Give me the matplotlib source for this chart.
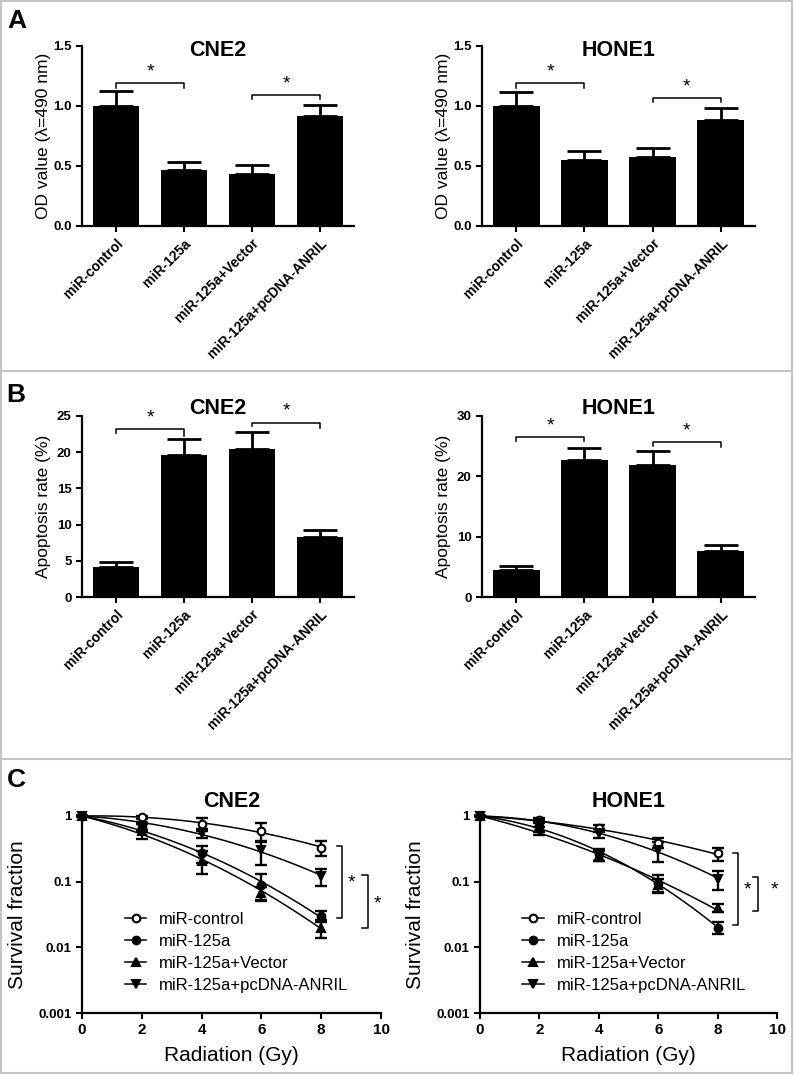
import numpy as np
import matplotlib
matplotlib.use('Agg')
import matplotlib.pyplot as plt
from matplotlib.lines import Line2D

plt.rcParams['font.family'] = ['Liberation Sans', 'DejaVu Sans']

groups = ['miR-control', 'miR-125a', 'miR-125a+Vector', 'miR-125a+pcDNA-ANRIL']

# panel A: OD value
od_cne2 = [1.0, 0.47, 0.43, 0.915]
od_cne2_err = [0.125, 0.065, 0.08, 0.095]
od_hone1 = [1.0, 0.55, 0.575, 0.883]
od_hone1_err = [0.12, 0.075, 0.075, 0.097]

# panel B: apoptosis rate
apo_cne2 = [4.15, 19.6, 20.4, 8.3]
apo_cne2_err = [0.75, 2.2, 2.4, 0.95]
apo_hone1 = [4.45, 22.7, 21.9, 7.6]
apo_hone1_err = [0.65, 2.0, 2.3, 1.0]

# panel C: survival fraction
dose = [0, 2, 4, 6, 8]
series = ['miR-control', 'miR-125a', 'miR-125a+Vector', 'miR-125a+pcDNA-ANRIL']
surv_cne2 = {
    'miR-control': [1.0, 0.95, 0.76, 0.59, 0.33],
    'miR-125a': [1.0, 0.68, 0.27, 0.09, 0.03],
    'miR-125a+Vector': [1.0, 0.6, 0.21, 0.068, 0.02],
    'miR-125a+pcDNA-ANRIL': [1.0, 0.7, 0.55, 0.3, 0.12],
}
surv_cne2_err = {
    'miR-control': [0.0, 0.06, 0.17, 0.19, 0.08],
    'miR-125a': [0.0, 0.08, 0.08, 0.04, 0.006],
    'miR-125a+Vector': [0.0, 0.16, 0.08, 0.015, 0.006],
    'miR-125a+pcDNA-ANRIL': [0.0, 0.08, 0.08, 0.12, 0.035],
}
surv_hone1 = {
    'miR-control': [1.0, 0.87, 0.65, 0.39, 0.27],
    'miR-125a': [1.0, 0.7, 0.26, 0.097, 0.02],
    'miR-125a+Vector': [1.0, 0.68, 0.25, 0.09, 0.04],
    'miR-125a+pcDNA-ANRIL': [1.0, 0.78, 0.55, 0.3, 0.11],
}
surv_hone1_err = {
    'miR-control': [0.0, 0.05, 0.08, 0.07, 0.06],
    'miR-125a': [0.0, 0.18, 0.05, 0.03, 0.004],
    'miR-125a+Vector': [0.0, 0.1, 0.04, 0.02, 0.005],
    'miR-125a+pcDNA-ANRIL': [0.0, 0.1, 0.08, 0.1, 0.035],
}
markers = {
    'miR-control': dict(marker='o', mfc='white', ms=5.5),
    'miR-125a': dict(marker='o', mfc='black', ms=5.5),
    'miR-125a+Vector': dict(marker='^', mfc='black', ms=5.5),
    'miR-125a+pcDNA-ANRIL': dict(marker='v', mfc='black', ms=5.5),
}

W, H = 794, 1075
fig = plt.figure(figsize=(W / 100, H / 100), dpi=100)


def rect(x0, y0, x1, y1):
    # pixel box (top-left origin) -> figure fraction
    return [x0 / W, 1 - y1 / H, (x1 - x0) / W, (y1 - y0) / H]


def style_axes(ax):
    for s in ['top', 'right']:
        ax.spines[s].set_visible(False)
    for s in ['left', 'bottom']:
        ax.spines[s].set_linewidth(1.6)
    ax.tick_params(direction='out', length=4, width=1.5)


def bar_panel(box, vals, errs, ylim, yticks, yfmt, ylabel, title, brackets, title_y):
    ax = fig.add_axes(rect(*box))
    x = np.arange(len(groups))
    ax.bar(x, vals, width=0.69, color='black')
    ax.errorbar(x, vals, yerr=[np.zeros(len(vals)), errs], fmt='none',
                ecolor='black', elinewidth=2, capsize=12, capthick=2)
    ax.set_xlim(-0.5, 3.5)
    ax.set_ylim(0, ylim)
    ax.set_yticks(yticks)
    ax.set_yticklabels([yfmt.format(t) for t in yticks], fontsize=9.5, fontweight='bold')
    ax.set_xticks(x)
    ax.set_xticklabels(groups, rotation=45, ha='right', va='top',
                       rotation_mode='anchor', fontsize=10, fontweight='bold')
    style_axes(ax)
    ax.set_ylabel(ylabel, fontsize=12.5)
    ax.yaxis.set_label_coords(-0.115, 0.5)
    ax.text(0.5, title_y, title, transform=ax.transAxes, ha='center', va='center',
            fontsize=15.5, fontweight='bold')
    for i, j, y, dl, dr in brackets:
        ax.plot([i, i, j, j], [y - dl, y, y, y - dr], color='black', lw=1.1,
                clip_on=False)
        ax.text((i + j) / 2, y + ylim * 0.015, '*', ha='center', va='bottom',
                fontsize=14)
    return ax


bar_panel((82, 46, 354, 226), od_cne2, od_cne2_err, 1.5, [0, 0.5, 1.0, 1.5], '{:.1f}',
          'OD value (λ=490 nm)', 'CNE2',
          [(0, 1, 1.19, 0.04, 0.04), (2, 3, 1.09, 0.035, 0.035)], 0.975)
bar_panel((482, 46, 755, 226), od_hone1, od_hone1_err, 1.5, [0, 0.5, 1.0, 1.5], '{:.1f}',
          'OD value (λ=490 nm)', 'HONE1',
          [(0, 1, 1.19, 0.04, 0.04), (2, 3, 1.065, 0.035, 0.035)], 0.975)
bar_panel((82, 416, 354, 597), apo_cne2, apo_cne2_err, 25, [0, 5, 10, 15, 20, 25], '{:d}',
          'Apoptosis rate (%)', 'CNE2',
          [(0, 1, 23.2, 0.55, 1.0), (2, 3, 24.1, 0.55, 0.7)], 1.044)
bar_panel((482, 416, 755, 597), apo_hone1, apo_hone1_err, 30, [0, 10, 20, 30], '{:d}',
          'Apoptosis rate (%)', 'HONE1',
          [(0, 1, 26.5, 0.7, 0.7), (2, 3, 25.7, 0.7, 0.9)], 1.044)


def survival_panel(box, data, errs, title, brackets, stars):
    ax = fig.add_axes(rect(*box))
    xfine = np.linspace(0, 8, 200)
    for name in series:
        y = np.array(data[name])
        e = np.array(errs[name])
        # linear-quadratic fit in log space, like the original curve fit
        A = np.column_stack([np.array(dose, float), np.array(dose, float) ** 2])
        coef, *_ = np.linalg.lstsq(A, np.log10(y), rcond=None)
        ax.plot(xfine, 10 ** (coef[0] * xfine + coef[1] * xfine ** 2),
                color='black', lw=1.1, clip_on=False)
        ax.errorbar(dose, y, yerr=e, fmt='none', ecolor='black', elinewidth=1.7,
                    capsize=4.5, capthick=1.7, clip_on=False)
        m = markers[name]
        ax.plot(dose, y, linestyle='none', marker=m['marker'], mfc=m['mfc'],
                mec='black', mew=1.5, ms=m['ms'], clip_on=False, zorder=5)
    ax.set_yscale('log')
    ax.set_ylim(0.001, 1)
    ax.set_xlim(0, 10)
    ax.set_yticks([0.001, 0.01, 0.1, 1])
    ax.set_yticklabels(['0.001', '0.01', '0.1', '1'], fontsize=9.5, fontweight='bold')
    ax.yaxis.set_minor_locator(matplotlib.ticker.NullLocator())
    ax.set_xticks([0, 2, 4, 6, 8, 10])
    ax.set_xticklabels(['0', '2', '4', '6', '8', '10'], fontsize=11, fontweight='bold')
    style_axes(ax)
    ax.set_ylabel('Survival fraction', fontsize=15)
    ax.yaxis.set_label_coords(-0.185, 0.5)
    ax.set_xlabel('Radiation (Gy)', fontsize=15)
    ax.xaxis.set_label_coords(0.5, -0.165)
    ax.text(0.5, 1.076, title, transform=ax.transAxes, ha='center', va='center',
            fontsize=15.5, fontweight='bold')
    for xb, ytop, ybot in brackets:
        ax.plot([xb - 0.17, xb, xb, xb - 0.17], [ytop, ytop, ybot, ybot],
                color='black', lw=1.1, clip_on=False)
    for xs, ys in stars:
        ax.text(xs, ys, '*', ha='center', va='center', fontsize=14, clip_on=False)
    handles = [Line2D([0], [0], color='black', lw=1.1, marker=markers[n]['marker'],
                      mfc=markers[n]['mfc'], mec='black', mew=1.5, ms=markers[n]['ms'])
               for n in series]
    ax.legend(handles, series, loc='upper left', bbox_to_anchor=(0.115, 0.555),
              frameon=False, fontsize=12, handlelength=1.3, handletextpad=0.75,
              labelspacing=0.42, borderpad=0)
    return ax


survival_panel((82, 816, 381, 1013), surv_cne2, surv_cne2_err, 'CNE2',
               [(8.7, 0.35, 0.028), (9.55, 0.125, 0.02)],
               [(9.0, 0.095), (9.87, 0.045)])
survival_panel((480, 816, 777, 1013), surv_hone1, surv_hone1_err, 'HONE1',
               [(8.7, 0.275, 0.0216), (9.36, 0.119, 0.036)],
               [(9.0, 0.075), (9.93, 0.075)])

# panel letters
for letter, (px, py) in zip('ABC', [(17, 21), (16, 395), (16, 780)]):
    fig.text(px / W, 1 - py / H, letter, ha='center', va='center',
             fontsize=19, fontweight='bold')

# gray panel frames
gray = '#c4c4c4'
for x0, y0, x1, y1 in [(1, 1, 792, 1), (1, 371, 792, 371), (1, 759, 792, 759),
                       (1, 1073, 792, 1073), (1, 1, 1, 1073), (792, 1, 792, 1073)]:
    fig.add_artist(Line2D([x0 / W, x1 / W], [1 - y0 / H, 1 - y1 / H],
                          color=gray, lw=1.5, transform=fig.transFigure))

fig.savefig('out.png', dpi=100)
